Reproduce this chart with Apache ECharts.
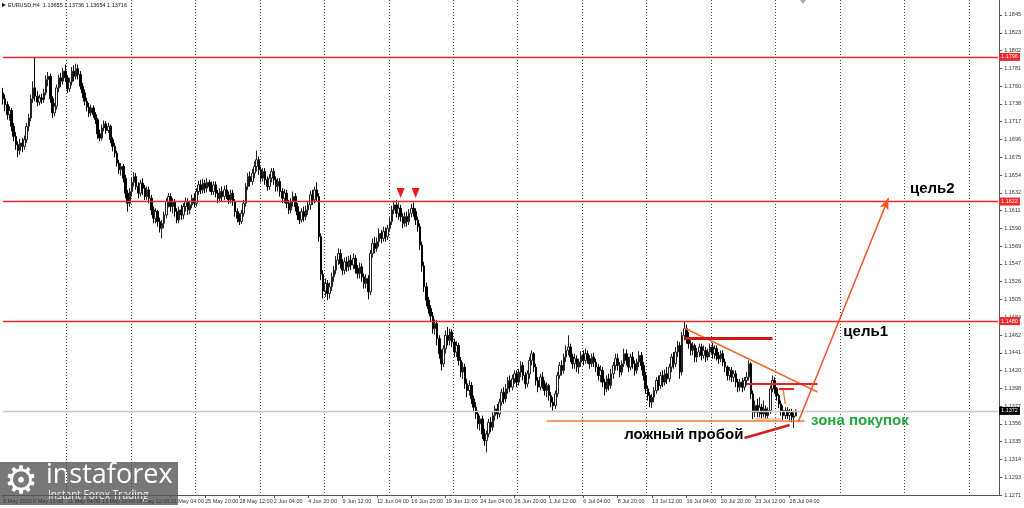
<!DOCTYPE html>
<html><head><meta charset="utf-8">
<script src="https://cdn.jsdelivr.net/npm/echarts@6/dist/echarts.min.js"></script>
<style>html,body{margin:0;padding:0;background:#fff}#c{width:1024px;height:508px}</style>
</head><body><div id="c"></div>
<script>
// ---- data (EURUSD H4) : [open, close, low, high]
const candles = [
[1.1752,1.1745,1.1738,1.1758],[1.1745,1.1738,1.1730,1.1750],[1.1738,1.1726,1.1720,1.1742],[1.1726,1.1731,1.1719,1.1736],
[1.1731,1.1712,1.1706,1.1734],[1.1712,1.1700,1.1694,1.1716],[1.1700,1.1690,1.1684,1.1705],[1.1690,1.1683,1.1675,1.1694],
[1.1683,1.1692,1.1678,1.1697],[1.1692,1.1688,1.1681,1.1698],[1.1688,1.1696,1.1684,1.1701],[1.1696,1.1712,1.1692,1.1716],
[1.1712,1.1722,1.1706,1.1727],[1.1722,1.1745,1.1718,1.1750],[1.1745,1.1758,1.1740,1.1766],[1.1758,1.1748,1.1742,1.1795],
[1.1748,1.1741,1.1736,1.1754],[1.1741,1.1746,1.1737,1.1750],[1.1746,1.1744,1.1739,1.1751],[1.1744,1.1752,1.1740,1.1757],
[1.1752,1.1768,1.1749,1.1773],[1.1768,1.1772,1.1760,1.1777],[1.1772,1.1745,1.1740,1.1775],[1.1745,1.1728,1.1722,1.1748],
[1.1728,1.1736,1.1724,1.1740],[1.1736,1.1758,1.1732,1.1762],[1.1758,1.1770,1.1753,1.1774],[1.1770,1.1766,1.1759,1.1776],
[1.1766,1.1778,1.1762,1.1782],[1.1778,1.1770,1.1765,1.1786],[1.1770,1.1757,1.1752,1.1773],[1.1757,1.1765,1.1753,1.1770],
[1.1765,1.1778,1.1761,1.1783],[1.1778,1.1772,1.1766,1.1785],[1.1772,1.1781,1.1768,1.1787],[1.1781,1.1774,1.1768,1.1786],
[1.1774,1.1760,1.1756,1.1778],[1.1760,1.1752,1.1746,1.1764],[1.1752,1.1742,1.1737,1.1756],[1.1742,1.1735,1.1730,1.1746],
[1.1735,1.1728,1.1723,1.1740],[1.1728,1.1734,1.1724,1.1738],[1.1734,1.1726,1.1722,1.1737],[1.1726,1.1720,1.1715,1.1729],
[1.1720,1.1703,1.1697,1.1722],[1.1703,1.1698,1.1694,1.1708],[1.1698,1.1710,1.1695,1.1714],[1.1710,1.1715,1.1706,1.1719],
[1.1715,1.1707,1.1703,1.1718],[1.1707,1.1712,1.1704,1.1716],[1.1712,1.1696,1.1692,1.1714],[1.1696,1.1688,1.1682,1.1699],
[1.1688,1.1680,1.1675,1.1692],[1.1680,1.1668,1.1664,1.1683],[1.1668,1.1660,1.1655,1.1672],[1.1660,1.1664,1.1653,1.1668],
[1.1664,1.1650,1.1645,1.1667],[1.1650,1.1632,1.1626,1.1654],[1.1632,1.1620,1.1610,1.1636],[1.1620,1.1634,1.1616,1.1638],
[1.1634,1.1645,1.1628,1.1650],[1.1645,1.1652,1.1640,1.1657],[1.1652,1.1640,1.1636,1.1656],[1.1640,1.1632,1.1626,1.1645],
[1.1632,1.1644,1.1628,1.1648],[1.1644,1.1638,1.1630,1.1650],[1.1638,1.1628,1.1624,1.1642],[1.1628,1.1636,1.1624,1.1640],
[1.1636,1.1626,1.1620,1.1640],[1.1626,1.1612,1.1606,1.1630],[1.1612,1.1602,1.1596,1.1616],[1.1602,1.1610,1.1596,1.1614],
[1.1610,1.1598,1.1592,1.1612],[1.1598,1.1590,1.1585,1.1603],[1.1590,1.1596,1.1578,1.1600],[1.1596,1.1606,1.1590,1.1610],
[1.1606,1.1622,1.1602,1.1626],[1.1622,1.1628,1.1615,1.1632],[1.1628,1.1616,1.1610,1.1632],[1.1616,1.1622,1.1608,1.1626],
[1.1622,1.1610,1.1604,1.1625],[1.1610,1.1600,1.1596,1.1614],[1.1600,1.1612,1.1596,1.1616],[1.1612,1.1606,1.1600,1.1618],
[1.1606,1.1616,1.1601,1.1620],[1.1616,1.1622,1.1610,1.1627],[1.1622,1.1612,1.1606,1.1626],[1.1612,1.1618,1.1607,1.1623],
[1.1618,1.1626,1.1614,1.1630],[1.1626,1.1620,1.1615,1.1632],[1.1620,1.1634,1.1616,1.1638],[1.1634,1.1642,1.1630,1.1647],
[1.1642,1.1636,1.1631,1.1648],[1.1636,1.1644,1.1632,1.1649],[1.1644,1.1638,1.1632,1.1648],[1.1638,1.1645,1.1633,1.1650],
[1.1645,1.1640,1.1634,1.1648],[1.1640,1.1634,1.1630,1.1646],[1.1634,1.1642,1.1630,1.1646],[1.1642,1.1632,1.1627,1.1646],
[1.1632,1.1626,1.1620,1.1636],[1.1626,1.1634,1.1621,1.1638],[1.1634,1.1628,1.1622,1.1640],[1.1628,1.1636,1.1624,1.1641],
[1.1636,1.1630,1.1625,1.1642],[1.1630,1.1624,1.1619,1.1634],[1.1624,1.1632,1.1620,1.1636],[1.1632,1.1622,1.1617,1.1636],
[1.1622,1.1610,1.1604,1.1625],[1.1610,1.1602,1.1597,1.1614],[1.1602,1.1598,1.1594,1.1608],[1.1598,1.1608,1.1595,1.1612],
[1.1608,1.1620,1.1604,1.1624],[1.1620,1.1640,1.1616,1.1644],[1.1640,1.1652,1.1636,1.1656],[1.1652,1.1646,1.1640,1.1658],
[1.1646,1.1656,1.1642,1.1661],[1.1656,1.1664,1.1650,1.1670],[1.1664,1.1672,1.1658,1.1683],[1.1672,1.1660,1.1654,1.1676],
[1.1660,1.1650,1.1645,1.1664],[1.1650,1.1658,1.1646,1.1662],[1.1658,1.1648,1.1642,1.1662],[1.1648,1.1640,1.1635,1.1652],
[1.1640,1.1650,1.1636,1.1655],[1.1650,1.1658,1.1645,1.1662],[1.1658,1.1648,1.1642,1.1662],[1.1648,1.1640,1.1634,1.1652],
[1.1640,1.1646,1.1634,1.1650],[1.1646,1.1634,1.1628,1.1650],[1.1634,1.1626,1.1620,1.1638],[1.1626,1.1632,1.1620,1.1637],
[1.1632,1.1620,1.1614,1.1636],[1.1620,1.1612,1.1607,1.1624],[1.1612,1.1622,1.1608,1.1626],[1.1622,1.1628,1.1616,1.1634],
[1.1628,1.1616,1.1610,1.1632],[1.1616,1.1606,1.1600,1.1620],[1.1606,1.1600,1.1595,1.1610],[1.1600,1.1610,1.1597,1.1614],
[1.1610,1.1604,1.1598,1.1616],[1.1604,1.1612,1.1600,1.1617],[1.1612,1.1618,1.1606,1.1623],[1.1618,1.1630,1.1612,1.1635],
[1.1630,1.1624,1.1618,1.1636],[1.1624,1.1636,1.1620,1.1640],[1.1636,1.1628,1.1622,1.1645],[1.1628,1.1580,1.1574,1.1632],
[1.1580,1.1535,1.1528,1.1584],[1.1535,1.1515,1.1506,1.1540],[1.1515,1.1524,1.1508,1.1530],[1.1524,1.1512,1.1504,1.1528],
[1.1512,1.1520,1.1506,1.1525],[1.1520,1.1532,1.1515,1.1537],[1.1532,1.1540,1.1526,1.1545],[1.1540,1.1552,1.1535,1.1557],
[1.1552,1.1560,1.1546,1.1566],[1.1560,1.1548,1.1542,1.1565],[1.1548,1.1540,1.1534,1.1553],[1.1540,1.1550,1.1535,1.1555],
[1.1550,1.1544,1.1538,1.1556],[1.1544,1.1552,1.1539,1.1557],[1.1552,1.1546,1.1540,1.1558],[1.1546,1.1554,1.1541,1.1560],
[1.1554,1.1542,1.1536,1.1558],[1.1542,1.1536,1.1530,1.1546],[1.1536,1.1544,1.1530,1.1549],[1.1544,1.1532,1.1526,1.1548],
[1.1532,1.1524,1.1518,1.1536],[1.1524,1.1530,1.1518,1.1535],[1.1530,1.1514,1.1505,1.1534],[1.1514,1.1560,1.1510,1.1564],
[1.1560,1.1572,1.1555,1.1578],[1.1572,1.1566,1.1560,1.1580],[1.1566,1.1574,1.1562,1.1579],[1.1574,1.1584,1.1568,1.1590],
[1.1584,1.1578,1.1572,1.1588],[1.1578,1.1586,1.1574,1.1592],[1.1586,1.1580,1.1574,1.1591],[1.1580,1.1590,1.1576,1.1594],
[1.1590,1.1598,1.1586,1.1603],[1.1598,1.1612,1.1594,1.1617],[1.1612,1.1618,1.1607,1.1623],[1.1618,1.1608,1.1603,1.1624],
[1.1608,1.1614,1.1600,1.1621],[1.1614,1.1604,1.1598,1.1618],[1.1604,1.1596,1.1590,1.1608],[1.1596,1.1604,1.1592,1.1609],
[1.1604,1.1598,1.1592,1.1610],[1.1598,1.1608,1.1594,1.1613],[1.1608,1.1614,1.1603,1.1619],[1.1614,1.1610,1.1604,1.1621],
[1.1610,1.1600,1.1594,1.1614],[1.1600,1.1592,1.1586,1.1604],[1.1592,1.1570,1.1564,1.1596],[1.1570,1.1545,1.1538,1.1574],
[1.1545,1.1520,1.1514,1.1550],[1.1520,1.1504,1.1497,1.1525],[1.1504,1.1494,1.1488,1.1508],[1.1494,1.1485,1.1479,1.1498],
[1.1485,1.1470,1.1464,1.1490],[1.1470,1.1476,1.1463,1.1481],[1.1476,1.1458,1.1450,1.1480],[1.1458,1.1440,1.1434,1.1462],
[1.1440,1.1428,1.1420,1.1445],[1.1428,1.1446,1.1424,1.1450],[1.1446,1.1462,1.1440,1.1468],[1.1462,1.1456,1.1450,1.1472],
[1.1456,1.1466,1.1450,1.1470],[1.1466,1.1454,1.1448,1.1469],[1.1454,1.1442,1.1436,1.1458],[1.1442,1.1450,1.1436,1.1455],
[1.1450,1.1432,1.1426,1.1453],[1.1432,1.1418,1.1412,1.1436],[1.1418,1.1424,1.1410,1.1430],[1.1424,1.1404,1.1398,1.1428],
[1.1404,1.1396,1.1388,1.1410],[1.1396,1.1402,1.1390,1.1408],[1.1402,1.1386,1.1380,1.1406],[1.1386,1.1376,1.1370,1.1390],
[1.1376,1.1368,1.1362,1.1382],[1.1368,1.1356,1.1350,1.1372],[1.1356,1.1362,1.1348,1.1366],[1.1362,1.1344,1.1338,1.1366],
[1.1344,1.1336,1.1330,1.1350],[1.1336,1.1344,1.1322,1.1348],[1.1344,1.1358,1.1340,1.1362],[1.1358,1.1352,1.1346,1.1364],
[1.1352,1.1366,1.1348,1.1370],[1.1366,1.1374,1.1360,1.1378],[1.1374,1.1368,1.1362,1.1380],[1.1368,1.1382,1.1364,1.1386],
[1.1382,1.1394,1.1378,1.1398],[1.1394,1.1386,1.1380,1.1400],[1.1386,1.1398,1.1382,1.1404],[1.1398,1.1408,1.1392,1.1412],
[1.1408,1.1400,1.1394,1.1414],[1.1400,1.1410,1.1396,1.1415],[1.1410,1.1416,1.1404,1.1420],[1.1416,1.1406,1.1400,1.1420],
[1.1406,1.1418,1.1402,1.1422],[1.1418,1.1426,1.1412,1.1431],[1.1426,1.1414,1.1408,1.1430],[1.1414,1.1404,1.1398,1.1418],
[1.1404,1.1416,1.1400,1.1420],[1.1416,1.1432,1.1410,1.1436],[1.1432,1.1440,1.1426,1.1444],[1.1440,1.1424,1.1418,1.1442],
[1.1424,1.1408,1.1402,1.1428],[1.1408,1.1400,1.1394,1.1412],[1.1400,1.1412,1.1396,1.1416],[1.1412,1.1404,1.1398,1.1418],
[1.1404,1.1396,1.1390,1.1408],[1.1396,1.1402,1.1388,1.1406],[1.1402,1.1390,1.1384,1.1404],[1.1390,1.1382,1.1376,1.1394],
[1.1382,1.1378,1.1372,1.1388],[1.1378,1.1392,1.1374,1.1396],[1.1392,1.1414,1.1388,1.1418],[1.1414,1.1426,1.1410,1.1430],
[1.1426,1.1420,1.1414,1.1432],[1.1420,1.1436,1.1416,1.1440],[1.1436,1.1444,1.1430,1.1450],[1.1444,1.1448,1.1438,1.1462],
[1.1448,1.1436,1.1430,1.1452],[1.1436,1.1428,1.1422,1.1440],[1.1428,1.1434,1.1422,1.1440],[1.1434,1.1424,1.1418,1.1438],
[1.1424,1.1430,1.1416,1.1434],[1.1430,1.1438,1.1424,1.1443],[1.1438,1.1432,1.1426,1.1444],[1.1432,1.1440,1.1428,1.1446],
[1.1440,1.1434,1.1428,1.1444],[1.1434,1.1428,1.1422,1.1438],[1.1428,1.1436,1.1424,1.1440],[1.1436,1.1430,1.1424,1.1441],
[1.1430,1.1424,1.1418,1.1434],[1.1424,1.1414,1.1408,1.1428],[1.1414,1.1420,1.1406,1.1426],[1.1420,1.1406,1.1400,1.1424],
[1.1406,1.1398,1.1390,1.1410],[1.1398,1.1410,1.1394,1.1414],[1.1410,1.1402,1.1396,1.1416],[1.1402,1.1416,1.1398,1.1422],
[1.1416,1.1426,1.1410,1.1430],[1.1426,1.1434,1.1420,1.1440],[1.1434,1.1426,1.1420,1.1440],[1.1426,1.1418,1.1412,1.1430],
[1.1418,1.1428,1.1414,1.1432],[1.1428,1.1440,1.1424,1.1446],[1.1440,1.1432,1.1426,1.1445],[1.1432,1.1424,1.1418,1.1436],
[1.1424,1.1436,1.1420,1.1440],[1.1436,1.1428,1.1422,1.1442],[1.1428,1.1420,1.1414,1.1432],[1.1420,1.1430,1.1416,1.1434],
[1.1430,1.1438,1.1424,1.1443],[1.1438,1.1426,1.1420,1.1442],[1.1426,1.1414,1.1408,1.1430],[1.1414,1.1398,1.1392,1.1418],
[1.1398,1.1390,1.1384,1.1402],[1.1390,1.1382,1.1376,1.1394],[1.1382,1.1388,1.1375,1.1392],[1.1388,1.1396,1.1382,1.1400],
[1.1396,1.1408,1.1392,1.1412],[1.1408,1.1402,1.1396,1.1414],[1.1402,1.1414,1.1398,1.1418],[1.1414,1.1406,1.1400,1.1420],
[1.1406,1.1416,1.1402,1.1421],[1.1416,1.1410,1.1404,1.1424],[1.1410,1.1424,1.1406,1.1428],[1.1424,1.1436,1.1418,1.1440],
[1.1436,1.1428,1.1422,1.1442],[1.1428,1.1442,1.1424,1.1448],[1.1442,1.1450,1.1436,1.1455],[1.1450,1.1418,1.1410,1.1454],
[1.1418,1.1462,1.1414,1.1466],[1.1462,1.1470,1.1456,1.1478],[1.1470,1.1458,1.1452,1.1475],[1.1458,1.1452,1.1446,1.1466],
[1.1452,1.1444,1.1438,1.1456],[1.1444,1.1450,1.1438,1.1454],[1.1450,1.1436,1.1430,1.1452],[1.1436,1.1442,1.1430,1.1447],
[1.1442,1.1448,1.1436,1.1452],[1.1448,1.1438,1.1432,1.1452],[1.1438,1.1444,1.1434,1.1450],[1.1444,1.1436,1.1430,1.1448],
[1.1436,1.1442,1.1432,1.1446],[1.1442,1.1448,1.1436,1.1452],[1.1448,1.1440,1.1434,1.1453],[1.1440,1.1446,1.1434,1.1450],
[1.1446,1.1438,1.1432,1.1450],[1.1438,1.1434,1.1428,1.1442],[1.1434,1.1440,1.1430,1.1444],[1.1440,1.1430,1.1425,1.1444],
[1.1430,1.1424,1.1418,1.1434],[1.1424,1.1414,1.1408,1.1426],[1.1414,1.1420,1.1408,1.1424],[1.1420,1.1412,1.1406,1.1424],
[1.1412,1.1416,1.1406,1.1420],[1.1416,1.1406,1.1400,1.1420],[1.1406,1.1400,1.1394,1.1410],[1.1400,1.1406,1.1395,1.1410],
[1.1406,1.1400,1.1394,1.1411],[1.1400,1.1408,1.1396,1.1412],[1.1408,1.1412,1.1402,1.1418],[1.1412,1.1428,1.1408,1.1432],
[1.1428,1.1392,1.1386,1.1430],[1.1392,1.1370,1.1362,1.1396],[1.1370,1.1378,1.1364,1.1384],[1.1378,1.1370,1.1364,1.1386],
[1.1370,1.1376,1.1364,1.1388],[1.1376,1.1368,1.1363,1.1380],[1.1368,1.1374,1.1364,1.1384],[1.1374,1.1366,1.1362,1.1378],
[1.1366,1.1372,1.1362,1.1376],[1.1372,1.1398,1.1368,1.1402],[1.1398,1.1408,1.1394,1.1414],[1.1408,1.1398,1.1392,1.1412],
[1.1398,1.1390,1.1384,1.1400],[1.1390,1.1380,1.1375,1.1392],[1.1380,1.1372,1.1366,1.1384],[1.1372,1.1366,1.1361,1.1378],
[1.1366,1.1372,1.1362,1.1376],[1.1372,1.1366,1.1362,1.1376],[1.1366,1.1370,1.1360,1.1374],[1.1370,1.1364,1.1358,1.1374],
[1.1364,1.13655,1.1351,1.1370],[1.13655,1.13716,1.13654,1.13736]
];
const SLOTS = 464;                       // bar slots incl. empty right margin
const xTickText = ['6 May 12:00','11 May 04:00','13 May 20:00','18 May 12:00','21 May 04:00','25 May 20:00','28 May 12:00',
  '2 Jun 04:00','4 Jun 20:00','9 Jun 12:00','12 Jun 04:00','16 Jun 20:00','19 Jun 12:00','24 Jun 04:00','26 Jun 20:00',
  '1 Jul 12:00','6 Jul 04:00','8 Jul 20:00','13 Jul 12:00','16 Jul 04:00','20 Jul 20:00','23 Jul 12:00','28 Jul 04:00'];
const firstLabel = '5 May 2020';
const yTickLabels = ['1.1271','1.1293','1.1314','1.1335','1.1356','1.1377','1.1398','1.1420','1.1441','1.1462','1.1484',
  '1.1505','1.1526','1.1547','1.1569','1.1590','1.1611','1.1632','1.1654','1.1675','1.1696','1.1717','1.1738','1.1760',
  '1.1781','1.1802','1.1823','1.1845'];
const levels = [1.1795, 1.1622, 1.1479];   // red horizontal levels
const levelText = ['1.1796', '1.1622', '1.1480'];
const bid = 1.13716;
const header = 'EURUSD,H4  1.13655 1.13736 1.13654 1.13716';
// annotation segments: [[idx, price], [idx, price]]
const segThickRed = [[317, 1.14588], [358, 1.14588]];
const segRed = [[346, 1.14038], [379, 1.14038]];
const segRedShort = [[361, 1.13978], [368, 1.13978]];
const segRedTick = [[363, 1.13966], [364, 1.13800]];
const segTrend = [[317, 1.14708], [379, 1.13942]];
const segBase = [[253, 1.13595], [373, 1.13595]];
const segBaseShort = [[350, 1.13619], [362, 1.13619]];
const segArrow = [[370, 1.13583], [412, 1.16263]];
const segPointer = [[345, 1.13392], [366, 1.13547]];
const topMarks = [[185, 1.16322], [192, 1.16322]];
const notes = [
  {idx: 422, price: 1.16370, text: 'цель2', color: '#000000'},
  {idx: 391, price: 1.14660, text: 'цель1', color: '#000000'},
  {idx: 376, price: 1.13595, text: 'зона покупок', color: '#23a83f'},
  {idx: 289, price: 1.13428, text: 'ложный пробой', color: '#000000'}
];

// ---- build
const yMin = 1.1271, yInterval = 1.1271 / 530, yMax = 1.1271 + 495 / 8360;
const cats = Array.from({length: SLOTS}, (_, i) => String(i));
const labelAt = {0: firstLabel};
xTickText.forEach((t, k) => { labelAt[14 + 16 * k] = t; });
function line(s, color, width, sym) {
  return [{coord: s[0], symbol: 'none', lineStyle: {color, width, type: 'solid'}, label: {show: false}},
          {coord: s[1], symbol: sym || 'none', label: {show: false}}];
}
const F = 'Liberation Sans';
function levelLine(v, text, color, bg) {
  return [{coord: [0, v], symbol: 'none', lineStyle: {color, width: 1.3, type: 'solid'},
           label: {show: true, position: 'end', distance: 1, formatter: text, color: '#fff', backgroundColor: bg,
             padding: [1, 2, 1, 2], fontSize: 5.5, fontFamily: F}},
          {coord: [SLOTS - 1, v], symbol: 'none'}];
}
const chart = echarts.init(document.getElementById('c'), null, {renderer: 'canvas'});
chart.setOption({
  animation: false,
  backgroundColor: '#ffffff',
  grid: {left: 0, right: 21, top: 0, bottom: 13, containLabel: false},
  xAxis: {
    type: 'category', data: cats, boundaryGap: true,
    axisLine: {show: true, lineStyle: {color: '#555', width: 1}},
    axisTick: {show: true, alignWithLabel: true, length: 3, interval: (i) => labelAt[i] !== undefined, lineStyle: {color: '#555'}},
    axisLabel: {show: true, interval: (i) => labelAt[i] !== undefined, formatter: (v, i) => labelAt[i] || '',
      align: 'left', margin: 3, fontSize: 5.5, fontFamily: F, color: '#333'},
    splitLine: {show: true, interval: (i) => i > 0 && i % 30 === 0, lineStyle: {color: '#444', width: 1, type: [1, 2]}}
  },
  yAxis: {
    type: 'value', position: 'right', min: yMin, max: yMax, interval: yInterval, scale: true,
    axisLine: {show: true, lineStyle: {color: '#555', width: 1}},
    axisTick: {show: true, length: 3, lineStyle: {color: '#555'}},
    axisLabel: {show: true, margin: 5, fontSize: 5.5, fontFamily: F, color: '#333', showMaxLabel: false,
      formatter: (v) => { const k = Math.round((v - yMin) / yInterval); return yTickLabels[k] || ''; }},
    splitLine: {show: false}
  },
  series: [
    {
      type: 'candlestick', data: candles, barWidth: 2,
      itemStyle: {color: '#ffffff', color0: '#000000', borderColor: '#222222', borderColor0: '#000000', borderWidth: 1},
      markLine: {
        silent: true, symbol: 'none', animation: false,
        data: [
          ...levels.map((v, i) => levelLine(v, levelText[i], '#f02828', '#f02828')),
          levelLine(bid, bid.toFixed(4), '#c8c8c8', '#000000'),
          line(segBase, '#f47a30', 1.5),
          line(segBaseShort, '#f8b890', 1.5),
          line(segTrend, '#f26a2a', 1.5),
          line(segThickRed, '#d01818', 3),
          line(segRed, '#e82222', 2),
          line(segRedShort, '#e82222', 2),
          line(segRedTick, '#f26a2a', 1.3),
          line(segPointer, '#d81c1c', 2.5),
          [{coord: segArrow[0], symbol: 'none', lineStyle: {color: '#f0502a', width: 1.5, type: 'solid'}, label: {show: false}},
           {coord: segArrow[1], symbol: 'arrow', symbolSize: [7, 12], label: {show: false}}]
        ]
      }
    },
    {
      type: 'scatter', data: topMarks, symbol: 'triangle', symbolRotate: 180, symbolSize: [8, 10],
      itemStyle: {color: '#e81c1c', opacity: 1}, silent: true, z: 5
    },
    {
      type: 'scatter', symbolSize: 0, silent: true, z: 6, itemStyle: {opacity: 1},
      data: notes.map(n => ({value: [n.idx, n.price], label: {formatter: n.text, color: n.color}})),
      label: {show: true, position: 'right', distance: 0, fontSize: 15, fontWeight: 'bold', fontFamily: F, opacity: 1,
        textBorderWidth: 0}
    }
  ],
  graphic: [
    {type: 'text', left: 8, top: 2, style: {text: header, fontSize: 5.5, fontFamily: F, fill: '#111'}},
    {type: 'polygon', shape: {points: [[2, 3], [6, 5], [2, 7]]}, style: {fill: '#111'}},
    {type: 'polygon', shape: {points: [[800, 0], [806, 0], [803, 4]]}, style: {fill: '#aaa'}},
    {type: 'group', left: 0, top: 462, children: [
      {type: 'rect', shape: {x: 0, y: 0, width: 178, height: 43}, style: {fill: 'rgba(105,105,105,0.9)'}},
      {type: 'text', x: 4, y: 2, style: {text: '⚙', fontSize: 38, fontFamily: 'DejaVu Sans', fill: '#fff'}},
      {type: 'text', x: 46, y: 0, style: {text: 'instaforex', fontSize: 27, fontFamily: 'Open Sans', fill: '#fff'}},
      {type: 'text', x: 48, y: 27, scaleX: 0.78, style: {text: 'Instant Forex Trading', fontSize: 13, fontFamily: 'Open Sans', fill: '#eeeeee'}}
    ]}
  ]
});
</script></body></html>
